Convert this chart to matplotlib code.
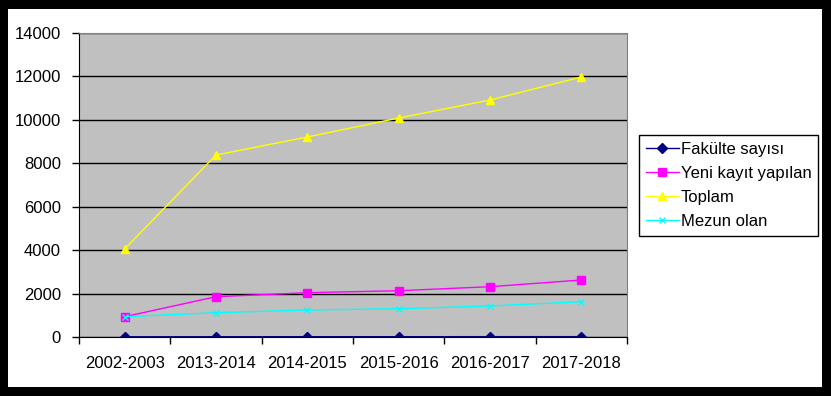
import numpy as np
import matplotlib.pyplot as plt
import matplotlib.patches as patches

years = ['2002-2003', '2013-2014', '2014-2015', '2015-2016', '2016-2017', '2017-2018']
fakulte = [10, 12, 13, 14, 15, 16]
yeni_kayit = [935, 1856, 2040, 2132, 2316, 2625]
toplam = [4053, 8381, 9210, 10086, 10914, 11974]
mezun = [935, 1119, 1243, 1303, 1428, 1625]

plt.rcParams['font.family'] = ['Liberation Sans', 'DejaVu Sans']

W, H = 831, 396
fig = plt.figure(figsize=(W/100, H/100), dpi=100)
fig.patch.set_facecolor('black')
fig.add_artist(patches.Rectangle((8/W, 9/H), (822-8)/W, (387-9)/H,
                                 transform=fig.transFigure, facecolor='white',
                                 edgecolor='none', zorder=0))

ax = fig.add_axes([79/W, (H-337)/H, (627-79)/W, (337-33)/H])
ax.set_facecolor('#C0C0C0')

x = np.arange(len(years))
l1, = ax.plot(x, fakulte, color='#000080', marker='D', markersize=5, lw=1, label='Fakülte sayısı')
l2, = ax.plot(x, yeni_kayit, color='#FF00FF', marker='s', markersize=6, lw=1, label='Yeni kayıt yapılan')
l3, = ax.plot(x, toplam, color='#FFFF00', marker='^', markersize=6, lw=1, label='Toplam')
l4, = ax.plot(x, mezun, color='#00FFFF', marker='x', markersize=5, lw=1, label='Mezun olan')

ax.set_xlim(-0.5, len(years) - 0.5)
ax.set_ylim(0, 14000)
ax.set_yticks(np.arange(0, 14001, 2000))
ax.yaxis.grid(True, color='black', lw=1)
ax.set_axisbelow(True)

ax.set_xticks(x)
ax.set_xticklabels(years)
ax.set_xticks(np.arange(-0.5, len(years)), minor=True)
ax.tick_params(axis='x', which='major', length=0, pad=14, labelsize=12)
ax.tick_params(axis='x', which='minor', length=5, width=1, direction='out')
ax.tick_params(axis='y', length=5, width=1, direction='out', pad=8, labelsize=12)

for s in ['top', 'right']:
    ax.spines[s].set_color('#808080')
for s in ['left', 'bottom']:
    ax.spines[s].set_color('black')

leg = fig.legend(handles=[l1, l2, l3, l4], loc='upper left',
                 bbox_to_anchor=(639/W, 1 - 135/H), borderaxespad=0,
                 fancybox=False, edgecolor='black', framealpha=1,
                 fontsize=12, handlelength=2.0, handletextpad=0.1,
                 labelspacing=0.55, borderpad=0.4)
leg.get_frame().set_linewidth(1)

fig.savefig('out.png', dpi=100, facecolor=fig.get_facecolor())
